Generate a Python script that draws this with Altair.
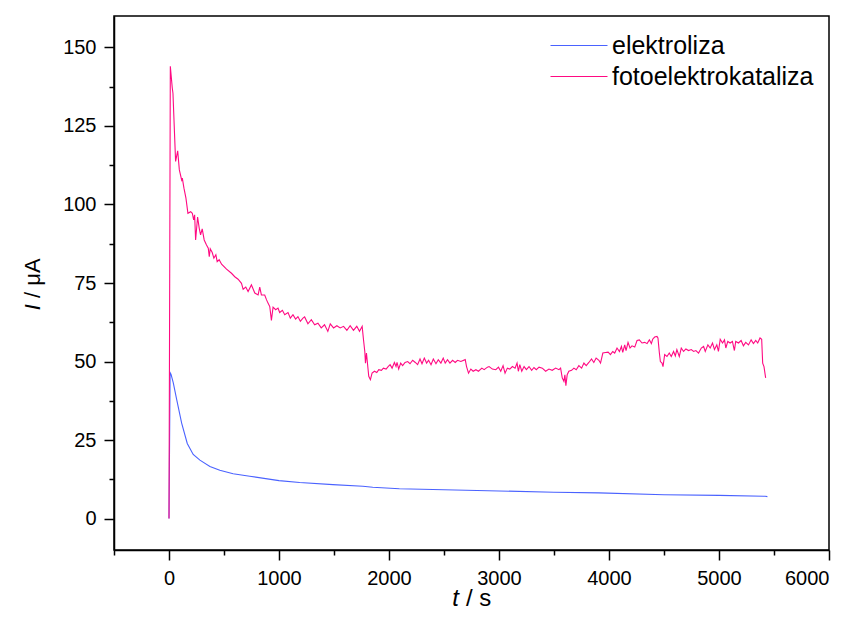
import altair as alt
import pandas as pd

# ---- data ----
t_elektro = [0, 10, 18, 39, 70, 115, 166, 220, 281, 372, 462, 583, 734, 1000, 1188, 1490,
             1762, 1852, 2094, 2500, 3000, 3500, 3907, 4500, 5000, 5419, 5440]
i_elektro = [0, 46.5, 46.0, 43.2, 37.9, 30.4, 23.9, 20.4, 18.6, 16.6, 15.4, 14.3, 13.5, 12.1, 11.5, 10.8,
             10.3, 10.0, 9.5, 9.2, 8.8, 8.4, 8.2, 7.6, 7.4, 7.1, 7.0]

t_foto = [0, 12, 30, 36, 60, 79, 94, 115, 121, 136, 154, 172, 197, 212, 224, 233, 242, 260, 275, 287,
          302, 320, 341, 357, 366, 375, 393, 408, 426, 438, 456, 478, 523, 568, 598, 628, 659, 674, 698,
          719, 749, 780, 810, 825, 840, 870, 886, 900, 916, 931, 946, 970, 991, 1006, 1031, 1052, 1082,
          1103, 1127, 1151, 1172, 1194, 1218, 1233, 1263, 1294, 1324, 1354, 1384, 1414, 1444, 1466, 1496,
          1526, 1556, 1587, 1617, 1647, 1677, 1707, 1732, 1756, 1768, 1780, 1786, 1795, 1816, 1831, 1846,
          1868, 1889, 1907, 1931, 1949, 1974, 1992, 2010, 2028, 2049, 2064, 2073, 2088, 2106, 2124, 2146,
          2170, 2191, 2215, 2239, 2260, 2282, 2300, 2321, 2342, 2360, 2382, 2403, 2427, 2448, 2472, 2493,
          2511, 2532, 2554, 2578, 2602, 2623, 2653, 2693, 2705, 2723, 2744, 2765, 2790, 2813, 2844, 2865,
          2895, 2910, 2940, 2971, 2995, 3016, 3037, 3055, 3076, 3098, 3122, 3146, 3164, 3176, 3189, 3207,
          3228, 3249, 3273, 3297, 3318, 3339, 3364, 3394, 3424, 3454, 3484, 3515, 3545, 3560, 3575, 3590,
          3599, 3608, 3620, 3635, 3660, 3681, 3702, 3726, 3751, 3772, 3793, 3817, 3841, 3862, 3883, 3908,
          3923, 3944, 3968, 3992, 4013, 4034, 4052, 4073, 4095, 4113, 4125, 4143, 4155, 4173, 4191, 4209,
          4234, 4255, 4276, 4300, 4325, 4346, 4367, 4385, 4397, 4415, 4436, 4445, 4458, 4467, 4482, 4491,
          4506, 4527, 4548, 4566, 4587, 4603, 4617, 4639, 4657, 4678, 4699, 4723, 4748, 4769, 4790, 4814,
          4839, 4860, 4875, 4899, 4920, 4941, 4959, 4980, 4995, 5011, 5032, 5050, 5062, 5080, 5101, 5122,
          5140, 5152, 5177, 5201, 5222, 5243, 5268, 5292, 5313, 5334, 5352, 5373, 5388, 5397, 5409, 5424]
i_foto = [0, 144.0, 137.0, 135.4, 113.7, 117.1, 111.0, 107.8, 108.4, 105.2, 102.0, 97.2, 97.7, 97.2, 95.1,
          96.7, 88.7, 96.0, 92.4, 90.3, 92.2, 88.7, 87.1, 86.1, 83.4, 85.9, 84.7, 82.9, 84.0, 81.8, 82.4,
          81.0, 79.4, 78.1, 77.0, 76.2, 74.9, 73.0, 73.7, 72.3, 74.4, 71.8, 71.2, 73.7, 71.2, 71.2, 69.7,
          68.6, 67.5, 63.1, 67.3, 66.5, 67.0, 65.6, 66.3, 64.9, 65.6, 63.8, 64.9, 63.5, 64.3, 62.8, 63.8,
          64.2, 62.0, 63.3, 61.7, 62.2, 60.7, 61.7, 59.6, 62.0, 60.7, 61.4, 60.7, 61.2, 59.9, 61.4, 59.9,
          61.2, 59.6, 61.2, 57.0, 53.2, 49.5, 52.7, 45.3, 44.2, 46.3, 46.9, 46.5, 47.4, 47.2, 47.9, 47.6,
          48.4, 49.0, 47.9, 49.7, 48.4, 49.7, 47.6, 49.5, 48.7, 49.7, 50.0, 49.3, 50.4, 49.7, 49.0, 50.8,
          49.3, 51.1, 49.5, 50.4, 49.0, 50.8, 49.3, 50.6, 49.5, 51.1, 49.5, 50.6, 49.5, 50.4, 49.7, 50.4,
          50.0, 50.6, 48.4, 46.3, 47.6, 46.9, 47.4, 46.9, 47.9, 47.4, 48.2, 48.4, 47.6, 47.4, 48.2, 46.9,
          48.7, 46.3, 47.9, 47.6, 48.4, 47.9, 49.5, 46.9, 49.0, 46.9, 48.4, 47.4, 48.4, 47.2, 48.1, 47.4,
          48.2, 47.9, 46.9, 47.6, 47.2, 47.9, 47.4, 47.9, 44.8, 43.7, 45.8, 42.3, 45.8, 46.9, 47.2, 47.9,
          47.4, 48.7, 47.9, 49.5, 48.7, 49.7, 50.8, 49.7, 51.1, 50.4, 49.5, 52.7, 52.9, 53.0, 52.2, 53.2,
          52.7, 54.3, 53.2, 54.8, 52.9, 55.3, 53.5, 56.1, 54.3, 55.0, 54.6, 56.7, 56.9, 55.9, 56.1, 55.7,
          56.9, 55.7, 57.1, 57.8, 58.0, 57.5, 52.7, 50.0, 49.5, 48.4, 52.2, 51.6, 52.7, 51.6, 53.2, 51.8,
          53.8, 51.6, 54.3, 53.2, 54.0, 53.5, 53.8, 53.2, 53.5, 52.7, 54.3, 54.8, 53.2, 55.3, 54.3, 55.9,
          53.8, 55.3, 53.2, 57.1, 55.9, 56.9, 54.3, 56.4, 55.9, 56.4, 53.5, 56.4, 55.9, 56.7, 55.0, 56.1,
          55.3, 56.9, 55.7, 56.7, 55.9, 57.5, 57.1, 49.5, 48.4, 44.8]

series_names = ["elektroliza", "fotoelektrokataliza"]
series_colors = ["#4A62FF", "#FF0A82"]

x_tick_values = [-500, 0, 500, 1000, 1500, 2000, 2500, 3000, 3500, 4000, 4500, 5000, 5500, 6000]
y_tick_values = [0, 12.5, 25, 37.5, 50, 62.5, 75, 87.5, 100, 112.5, 125, 137.5, 150]

y_title_parts = ["I", "/ μA"]
x_title_parts = ["t", "/ s"]

FONT = "Liberation Sans"

rows = []
for k, (ts, vs) in enumerate([(t_elektro, i_elektro), (t_foto, i_foto)]):
    for j, (t, v) in enumerate(zip(ts, vs)):
        rows.append({"t": t, "I": v, "series": series_names[k], "idx": j})
df = pd.DataFrame(rows)

lines = alt.Chart(df).mark_line(strokeWidth=1.1, clip=True).encode(
    x=alt.X("t:Q",
            scale=alt.Scale(domain=[-500, 6000], nice=False, zero=False),
            axis=alt.Axis(title=None, values=x_tick_values, format="d",
                          labelExpr="datum.value % 1000 === 0 ? datum.label : ''",
                          tickSize={"condition": {"test": "datum.value % 1000 === 0", "value": 10}, "value": 5},
                          labelPadding=8)),
    y=alt.Y("I:Q",
            scale=alt.Scale(domain=[-10, 160], nice=False, zero=False),
            axis=alt.Axis(title=None, values=y_tick_values, format="d",
                          labelExpr="datum.value % 25 === 0 ? datum.label : ''",
                          tickSize={"condition": {"test": "datum.value % 25 === 0", "value": 10}, "value": 5},
                          labelPadding=8)),
    color=alt.Color("series:N",
                    scale=alt.Scale(domain=series_names, range=series_colors),
                    legend=alt.Legend(title=None, orient="none", legendX=452.5, legendY=17,
                                      symbolType="M-2.85,0L2.85,0", symbolSize=400,
                                      symbolStrokeWidth=1.2, symbolFillColor="transparent",
                                      labelFontSize=25, labelFont=FONT, labelColor="black",
                                      labelLimit=0, labelOffset=20.5, rowPadding=5, padding=0)),
    order="idx:Q",
)

yt_i = alt.Chart(pd.DataFrame({"s": [y_title_parts[0]]})).mark_text(
    font=FONT, fontSize=22, fontStyle="italic", angle=270, align="right", baseline="alphabetic", color="black"
).encode(text="s:N", x=alt.value(-74), y=alt.value(288))
yt_rest = alt.Chart(pd.DataFrame({"s": [y_title_parts[1]]})).mark_text(
    font=FONT, fontSize=22, angle=270, align="left", baseline="alphabetic", color="black"
).encode(text="s:N", x=alt.value(-74), y=alt.value(282))

xt_t = alt.Chart(pd.DataFrame({"s": [x_title_parts[0]]})).mark_text(
    font=FONT, fontSize=24, fontStyle="italic", align="right", baseline="alphabetic", color="black"
).encode(text="s:N", x=alt.value(345), y=alt.value(590))
xt_rest = alt.Chart(pd.DataFrame({"s": [x_title_parts[1]]})).mark_text(
    font=FONT, fontSize=24, align="left", baseline="alphabetic", color="black"
).encode(text="s:N", x=alt.value(352), y=alt.value(590))

chart = alt.layer(lines, yt_i, yt_rest, xt_t, xt_rest).properties(
    width=715, height=534,
    padding={"left": 106, "top": 8, "right": 15, "bottom": 64},
    autosize=alt.AutoSizeParams(type="none"),
).configure_view(
    stroke="black", strokeWidth=1.5
).configure_axis(
    domainColor="black", domainWidth=1.5, tickColor="black", tickWidth=1.5,
    labelFont=FONT, labelFontSize=20, labelColor="black", grid=False
)

chart.save("out.html", embed_options={"renderer": "svg", "actions": False})
